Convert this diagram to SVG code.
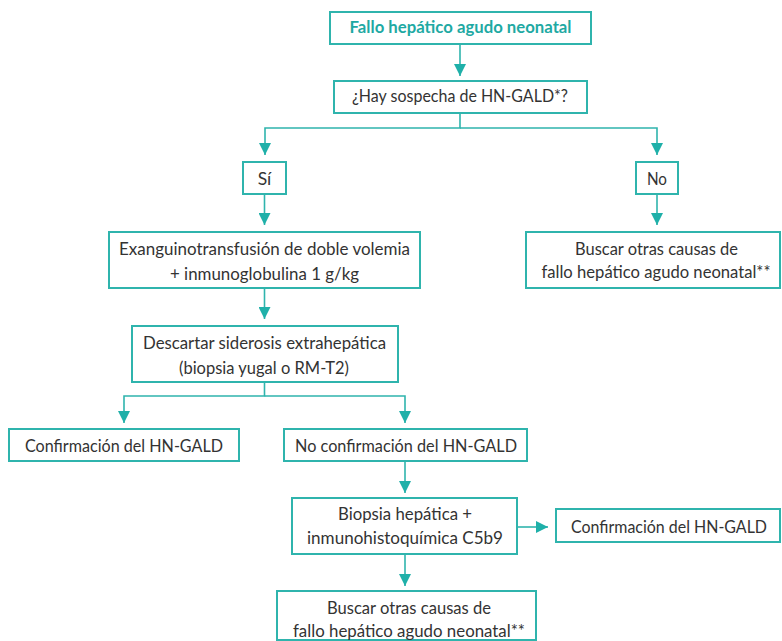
<svg xmlns="http://www.w3.org/2000/svg" width="782" height="641" viewBox="0 0 782 641">
<style>
.box{fill:#fff;stroke:#2fb4ad;stroke-width:2}
.t{font-family:"Lato","Liberation Sans",sans-serif;font-size:17.5px;fill:#333;text-anchor:middle}
.title{font-weight:700;fill:#1ea9a3;font-size:17.5px}
.c{fill:none;stroke:#2fb4ad;stroke-width:1.6}
</style>
<defs>
<marker id="ah" markerUnits="userSpaceOnUse" markerWidth="12" markerHeight="12" viewBox="0 0 12 12" refX="12" refY="6" orient="auto">
<path d="M0,0 L12,6 L0,12 z" fill="#1fb0a9"/>
</marker>
</defs>
<rect width="782" height="641" fill="#fff"/>
<g id="connectors">
<path class="c" d="M460,44 V76" marker-end="url(#ah)"/>
<path class="c" d="M460,113 V128 H265 V155" marker-end="url(#ah)"/>
<path class="c" d="M460,128 H657 V155" marker-end="url(#ah)"/>
<path class="c" d="M264.5,194 V225" marker-end="url(#ah)"/>
<path class="c" d="M657,194 V225" marker-end="url(#ah)"/>
<path class="c" d="M264.5,288 V319" marker-end="url(#ah)"/>
<path class="c" d="M264.5,382 V396 H124 V423" marker-end="url(#ah)"/>
<path class="c" d="M264.5,396 H405 V423" marker-end="url(#ah)"/>
<path class="c" d="M405,461 V493" marker-end="url(#ah)"/>
<path class="c" d="M517,527 H548" marker-end="url(#ah)"/>
<path class="c" d="M405,554 V586" marker-end="url(#ah)"/>
</g>
<g id="n-fallo">
<rect class="box" x="330" y="12" width="261" height="32"/>
<text class="t title" x="460.5" y="33" textLength="222" lengthAdjust="spacingAndGlyphs">Fallo hepático agudo neonatal</text>
</g>
<g id="n-sospecha">
<rect class="box" x="334" y="81" width="253" height="32"/>
<text class="t" x="460" y="102" textLength="216" lengthAdjust="spacingAndGlyphs">¿Hay sospecha de HN-GALD*?</text>
</g>
<g id="n-si">
<rect class="box" x="243" y="162" width="43" height="32"/>
<text class="t" x="264.5" y="185">Sí</text>
</g>
<g id="n-no">
<rect class="box" x="636" y="162" width="42" height="32"/>
<text class="t" x="657" y="185" textLength="20" lengthAdjust="spacingAndGlyphs">No</text>
</g>
<g id="n-exanguino">
<rect class="box" x="109" y="232" width="311" height="56"/>
<text class="t" x="264.5" y="255" textLength="291" lengthAdjust="spacingAndGlyphs">Exanguinotransfusión de doble volemia</text>
<text class="t" x="264.5" y="280" textLength="189" lengthAdjust="spacingAndGlyphs">+ inmunoglobulina 1 g/kg</text>
</g>
<g id="n-buscar-derecha">
<rect class="box" x="526" y="232" width="254" height="56"/>
<text class="t" x="656.5" y="255" textLength="163" lengthAdjust="spacingAndGlyphs">Buscar otras causas de</text>
<text class="t" x="656" y="278" textLength="229" lengthAdjust="spacingAndGlyphs">fallo hepático agudo neonatal**</text>
</g>
<g id="n-descartar">
<rect class="box" x="132" y="326" width="266" height="56"/>
<text class="t" x="264.5" y="349" textLength="243" lengthAdjust="spacingAndGlyphs">Descartar siderosis extrahepática</text>
<text class="t" x="264" y="374" textLength="170" lengthAdjust="spacingAndGlyphs">(biopsia yugal o RM-T2)</text>
</g>
<g id="n-confirmacion-1">
<rect class="box" x="9" y="429" width="230" height="32"/>
<text class="t" x="124" y="452" textLength="198" lengthAdjust="spacingAndGlyphs">Confirmación del HN-GALD</text>
</g>
<g id="n-no-confirmacion">
<rect class="box" x="284" y="429" width="243" height="32"/>
<text class="t" x="406" y="452" textLength="222" lengthAdjust="spacingAndGlyphs">No confirmación del HN-GALD</text>
</g>
<g id="n-biopsia">
<rect class="box" x="292" y="498" width="225" height="56"/>
<text class="t" x="405" y="520" textLength="134" lengthAdjust="spacingAndGlyphs">Biopsia hepática +</text>
<text class="t" x="405" y="544" textLength="196" lengthAdjust="spacingAndGlyphs">inmunohistoquímica C5b9</text>
</g>
<g id="n-confirmacion-2">
<rect class="box" x="556" y="509" width="224" height="33"/>
<text class="t" x="669" y="533" textLength="196" lengthAdjust="spacingAndGlyphs">Confirmación del HN-GALD</text>
</g>
<g id="n-buscar-abajo">
<rect class="box" x="277" y="591" width="259" height="49"/>
<text class="t" x="409" y="614" textLength="164" lengthAdjust="spacingAndGlyphs">Buscar otras causas de</text>
<text class="t" x="409" y="637" textLength="232" lengthAdjust="spacingAndGlyphs">fallo hepático agudo neonatal**</text>
</g>
</svg>
